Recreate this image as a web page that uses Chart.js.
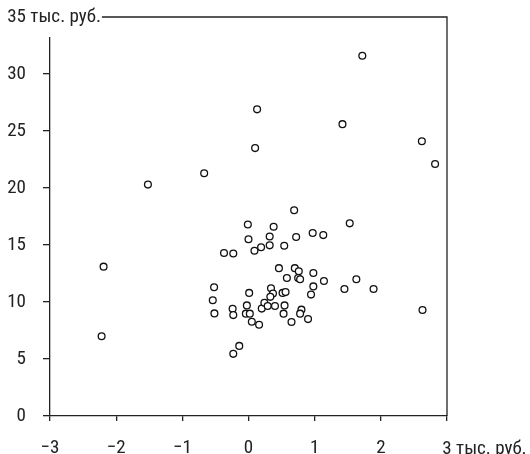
<!DOCTYPE html>
<html>
<head>
<meta charset="utf-8">
<script src="https://cdn.jsdelivr.net/npm/chart.js@4.4.1/dist/chart.umd.min.js"></script>
<style>
  body { margin: 0; background: #fff; }
  #wrap { width: 530px; height: 454px; }
</style>
</head>
<body>
<div id="wrap"><canvas id="myChart" width="530" height="454"></canvas></div>
<script>
// data (thousand roubles)
const xValues = [-2.19, -2.22, -1.52, -0.67, 0.13, 0.10, 1.72, 1.42, 2.62, 2.82,
  2.63, 1.53, 0.69, -0.01, 0.38, 0.32, 0.00, 0.72, 0.97, 1.13,
  0.32, 0.54, 0.09, 0.19, -0.37, -0.23, -0.52, -0.54, -0.515, 0.01,
  -0.025, -0.24, -0.23, -0.04, 0.02, 0.05, 0.16, 0.20, 0.24, 0.29,
  0.40, -0.14, -0.23, 0.46, 0.70, 0.76, 0.98, 0.58, 0.75, 0.78,
  1.14, 1.63, 1.45, 1.89, 0.98, 0.945, 0.34, 0.37, 0.33, 0.515,
  0.56, 0.545, 0.53, 0.65, 0.80, 0.78, 0.90];
const yValues = [13.1, 7.0, 20.3, 21.3, 26.9, 23.5, 31.6, 25.6, 24.1, 22.1,
  9.3, 16.9, 18.05, 16.8, 16.6, 15.75, 15.5, 15.7, 16.05, 15.87,
  14.97, 14.93, 14.5, 14.8, 14.3, 14.25, 11.3, 10.15, 9.0, 10.8,
  9.7, 9.4, 8.85, 8.98, 8.98, 8.27, 8.0, 9.42, 9.94, 9.65,
  9.65, 6.15, 5.45, 12.97, 12.97, 12.69, 12.55, 12.1, 12.1, 12.0,
  11.84, 12.0, 11.14, 11.14, 11.37, 10.65, 11.2, 10.75, 10.45, 10.8,
  10.87, 9.7, 8.98, 8.25, 9.33, 8.98, 8.5];
const xTicks = [-3, -2, -1, 0, 1, 2, 3];
const yTicks = [0, 5, 10, 15, 20, 25, 30, 35];
const unit = " тыс. руб.";

const points = xValues.map(function(x, i) { return { x: x, y: yValues[i] }; });

const FONT = "'Roboto Condensed', 'DejaVu Sans Condensed', sans-serif";
const FSIZE = 19;
const INK = "#222";

// top/right frame lines and the two unit labels
const framePlugin = {
  id: "frame",
  afterDraw: function(chart) {
    var ctx = chart.ctx;
    var a = chart.chartArea;
    var xs = chart.scales.x, ys = chart.scales.y;
    ctx.save();
    ctx.strokeStyle = INK;
    ctx.lineWidth = 1.3;
    ctx.beginPath();
    ctx.moveTo(a.left, a.top);
    ctx.lineTo(a.right, a.top);
    ctx.lineTo(a.right, a.bottom);
    ctx.stroke();

    ctx.font = FSIZE + "px " + FONT;
    ctx.textBaseline = "middle";

    // y top label
    var yTop = ys.getPixelForValue(yTicks[yTicks.length - 1]);
    var labY = yTicks[yTicks.length - 1] + unit;
    var startY = 26 - ctx.measureText(String(yTicks[yTicks.length - 1])).width;
    var wY = ctx.measureText(labY).width;
    ctx.fillStyle = "#fff";
    ctx.fillRect(startY - 2, yTop - 16, wY + 3, 36);
    ctx.fillStyle = INK;
    ctx.textAlign = "left";
    ctx.fillText(labY, startY, yTop);

    // x right label
    var xRight = xs.getPixelForValue(xTicks[xTicks.length - 1]);
    var first = String(xTicks[xTicks.length - 1]);
    var startX = xRight - ctx.measureText(first).width / 2;
    ctx.fillText(first + unit, startX, 449);
    ctx.restore();
  }
};

new Chart("myChart", {
  type: "scatter",
  data: {
    datasets: [{
      data: points,
      pointRadius: 3.4,
      pointBorderWidth: 1.3,
      borderColor: "#111",
      backgroundColor: "#fff",
      pointHoverRadius: 3.4
    }]
  },
  options: {
    responsive: false,
    animation: false,
    layout: { padding: { top: 17, right: 83, left: 0, bottom: 0 } },
    plugins: { legend: { display: false }, tooltip: { enabled: false } },
    scales: {
      x: {
        type: "linear",
        min: xTicks[0],
        max: xTicks[xTicks.length - 1],
        afterFit: function(s) { s.height = 38; s.paddingLeft = 0; s.paddingRight = 0; },
        afterBuildTicks: function(s) { s.ticks = xTicks.map(function(v) { return { value: v }; }); },
        border: { display: true, color: INK, width: 1.3 },
        grid: { drawOnChartArea: false, drawTicks: true, tickLength: 5, color: INK, lineWidth: 1.3 },
        ticks: {
          padding: 16,
          color: INK,
          font: { family: FONT, size: FSIZE },
          maxRotation: 0,
          callback: function(v) {
            if (v === xTicks[xTicks.length - 1]) return "";
            return v < 0 ? "\u2212" + Math.abs(v) : String(v);
          }
        }
      },
      y: {
        type: "linear",
        min: yTicks[0],
        max: yTicks[yTicks.length - 1],
        afterFit: function(s) { s.width = 50; s.paddingTop = 0; s.paddingBottom = 0; },
        afterBuildTicks: function(s) { s.ticks = yTicks.map(function(v) { return { value: v }; }); },
        border: { display: true, color: INK, width: 1.3 },
        grid: { drawOnChartArea: false, drawTicks: true, tickLength: 7, color: INK, lineWidth: 1.3 },
        ticks: {
          padding: 17,
          color: INK,
          font: { family: FONT, size: FSIZE },
          callback: function(v) {
            if (v === yTicks[yTicks.length - 1]) return "";
            return String(v);
          }
        }
      }
    }
  },
  plugins: [framePlugin]
});
</script>
</body>
</html>
